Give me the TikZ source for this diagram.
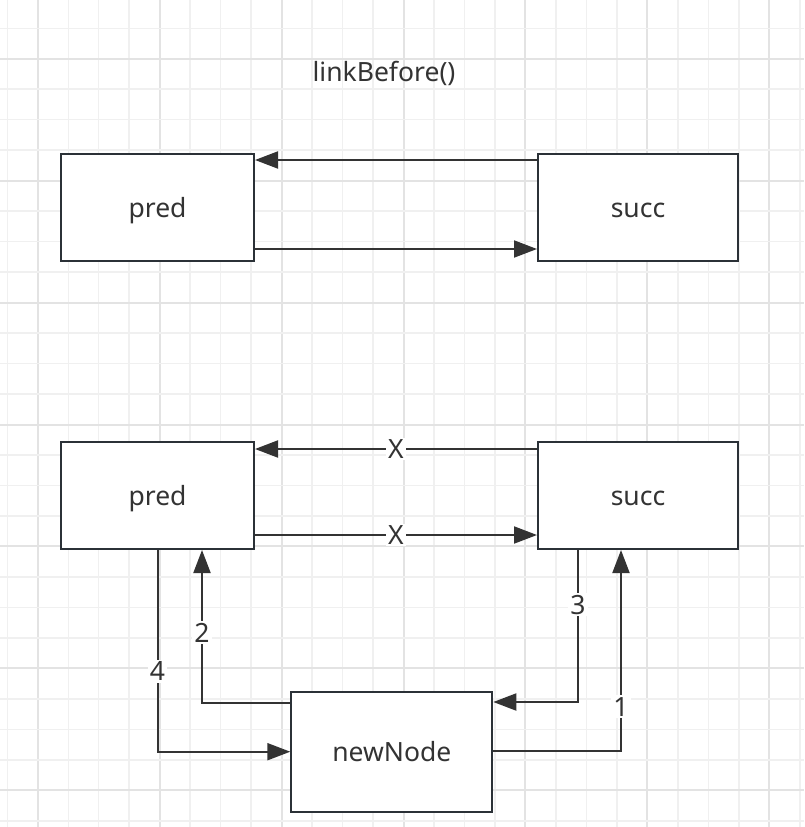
\documentclass[tikz,border=0pt]{standalone}
\usepackage{fontspec}
\setsansfont{Noto Sans}
\usetikzlibrary{arrows.meta}
\definecolor{ink}{HTML}{333333}
\definecolor{edge}{HTML}{2B3137}
\definecolor{minorgrid}{HTML}{F0F0F0}
\definecolor{majorgrid}{HTML}{E3E3E3}
\begin{document}
\begin{tikzpicture}[x=1pt, y=-1pt, font=\sffamily\fontsize{26.5}{30}\selectfont, text=ink,
          box/.style={draw=edge, line width=2pt, fill=white, minimum height=107pt, text height=20pt, text depth=0pt},
          smallbox/.style={box, minimum width=193pt},
          widebox/.style={box, minimum width=200pt},
          link/.style={draw=ink, line width=2pt, -{Triangle[length=23pt, width=17pt]}},
          tag/.style={fill=white, inner sep=2pt}]
        \useasboundingbox (0,0) rectangle (804,827);
        % grid paper
        \begin{scope}
          \clip (0,0) rectangle (804,827);
          \foreach \i in {0,...,26} {
            \pgfmathsetmacro{\gx}{7.3+30.48*\i}
            \pgfmathtruncatemacro{\gm}{mod(\i,4)}
            \ifnum\gm=1
              \draw[majorgrid, line width=2pt] (\gx,0) -- (\gx,827);
            \else
              \draw[minorgrid, line width=1.5pt] (\gx,0) -- (\gx,827);
            \fi
          }
          \foreach \j in {0,...,28} {
            \pgfmathsetmacro{\gy}{-2.2+30.48*\j}
            \pgfmathtruncatemacro{\gm}{mod(\j,4)}
            \ifnum\gm=2
              \draw[majorgrid, line width=2pt] (0,\gy) -- (804,\gy);
            \else
              \draw[minorgrid, line width=1.5pt] (0,\gy) -- (804,\gy);
            \fi
          }
        \end{scope}
        \node (title) at (384,73) {linkBefore()};
        % before
        \node[smallbox] (predA) at (157.5,207.5) {pred};
        \node[widebox] (succA) at (638,207.5) {succ};
        \draw[link] (succA.west |- 0,160) -- (predA.east |- 0,160);
        \draw[link] (predA.east |- 0,249) -- (succA.west |- 0,249);
        % after
        \node[smallbox] (predB) at (157.5,495.5) {pred};
        \node[widebox] (succB) at (638,495.5) {succ};
        \node[box, minimum width=201pt, minimum height=120pt] (newNode) at (391.8,751.7) {newNode};
        \draw[link] (succB.west |- 0,449) -- node[tag] {X} (predB.east |- 0,449);
        \draw[link] (predB.east |- 0,535) -- node[tag] {X} (succB.west |- 0,535);
        \draw[link] (newNode.east |- 0,751) -| node[tag, pos=0.61] {1} (succB.south -| 621,0);
        \draw[link] (newNode.west |- 0,703) -| node[tag, pos=0.73] {2} (predB.south -| 202,0);
        \draw[link] (succB.south -| 578,0) |- node[tag, pos=0.18] {3} (newNode.east |- 0,702);
        \draw[link] (predB.south) |- node[tag, pos=0.3] {4} (newNode.west |- 0,751.7);
      \end{tikzpicture}
\end{document}
